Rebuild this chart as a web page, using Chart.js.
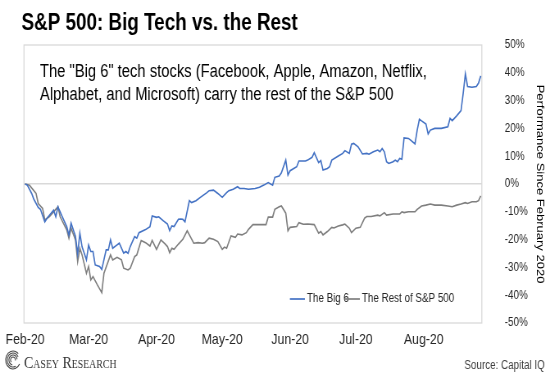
<!DOCTYPE html>
<html><head><meta charset="utf-8">
<script src="https://cdn.jsdelivr.net/npm/chart.js@4.4.1/dist/chart.umd.min.js"></script>
<style>html,body{margin:0;padding:0;background:#fff;overflow:hidden}canvas{display:block}</style>
</head><body>
<canvas id="c"></canvas>
<script>
const titleText = 'S&P 500: Big Tech vs. the Rest';
const noteLines = ['The "Big 6" tech stocks (Facebook, Apple, Amazon, Netflix,', 'Alphabet, and Microsoft) carry the rest of the S&P 500'];
const seriesNames = ['The Big 6', 'The Rest of S&P 500'];
const axisTitle = 'Performance Since February 2020';
const sourceText = 'Source: Capital IQ';
const brandText = 'Casey Research';
const monthLabels = ['Feb-20', 'Mar-20', 'Apr-20', 'May-20', 'Jun-20', 'Jul-20', 'Aug-20'];
const monthDays = [0, 29, 60, 90, 121, 151, 182];
const yMin = -50, yMax = 50, yStep = 10;

// days since 1 Feb 2020, performance in %
const bigDays = [0,1,3,4,6,7,9,10,13,14,15,17,19,20,21,23,24,25,26,28,29,30,31,32,34,35,37,38,39,40,42,43,45,46,47,48,50,51,52,55,57,58,60,61,63,65,66,67,68,70,71,72,73,75,76,78,80,83,84,86,88,90,92,93,95,97,98,100,102,105,107,109,111,113,114,116,117,119,120,121,124,125,128,129,131,132,134,135,136,138,139,140,143,145,146,148,149,150,152,154,156,157,159,161,162,163,164,165,166,168,169,170,171,172,173,175,176,178,179,180,181,183,184,185,187,190,193,194,195,197,199,200,201,202,204,206,207,208];
const bigVals = [0,-0.4,-3.4,-5.5,-8.4,-9.1,-13.6,-12.3,-9.4,-11.8,-8.2,-11.8,-15.3,-18.3,-14.1,-18.9,-25.1,-17.7,-22.6,-27.3,-22.0,-24.3,-24.3,-29.1,-29.7,-30.7,-23.7,-23.7,-20.1,-23.1,-21.9,-21.3,-24.9,-24.3,-24.9,-22.5,-18.9,-19.5,-17.5,-16.4,-15.4,-11.5,-12.0,-11.8,-13.2,-14.4,-16.8,-15.1,-15.3,-12.7,-12.6,-12.7,-13.6,-6.0,-6.7,-6.0,-4.8,-3.1,-2.4,-2.2,-3.4,-4.8,-3.1,-2.4,-1.9,-1.0,-1.6,-1.6,-1.9,-1.6,-1.2,-0.4,0.5,-0.4,2.4,2.9,4.0,8.6,3.2,4.8,6.2,8.3,8.3,8.6,9.6,11.3,7.7,8.4,5.0,5.6,6.2,8.6,10.1,11.0,12.0,11.0,14.3,14.6,13.4,10.8,11.0,10.7,11.6,12.2,11.6,12.8,11.6,8.0,7.4,8.0,8.6,8.0,9.2,8.9,16.6,16.4,15.8,14.4,19.4,23.3,22.7,21.6,18.0,19.4,20.0,20.0,20.6,23.6,22.8,24.5,26.4,32.6,39.6,35.1,34.8,35.1,36.3,38.9];
const restDays = [0,2,5,6,8,9,11,13,15,16,19,20,21,23,24,25,26,28,29,30,31,33,35,36,39,40,42,44,45,47,48,50,51,53,55,57,58,60,62,64,65,66,67,68,70,72,74,75,77,79,81,82,84,86,88,90,91,92,94,96,97,99,101,102,104,106,110,111,113,114,116,117,119,120,121,124,125,127,129,132,134,135,136,138,140,141,143,145,146,148,149,151,153,155,156,158,161,162,164,165,168,171,172,173,175,178,179,181,183,185,187,190,193,195,197,199,201,202,204,206,207,208];
const restVals = [0,-0.4,-3.4,-7.0,-8.8,-12.9,-11.8,-10.0,-8.2,-11.8,-16.5,-19.5,-15.9,-20.1,-27.9,-23.1,-25.5,-32.1,-29.7,-34.5,-33.3,-36.3,-39.1,-32.1,-25.5,-27.3,-26.4,-27.3,-30.3,-30.9,-30.3,-26.1,-25.5,-20.3,-21.1,-22.3,-20.3,-23.5,-20.1,-21.6,-22.5,-24.7,-23.1,-23.5,-21.6,-19.9,-16.8,-18.3,-21.3,-21.1,-21.3,-21.1,-19.5,-19.9,-20.7,-23.5,-22.7,-23.1,-18.7,-19.2,-18.0,-18.3,-17.5,-16.3,-14.6,-14.6,-14.6,-11.9,-11.9,-9.1,-8.2,-7.9,-10.5,-16.8,-15.6,-15.3,-13.9,-14.5,-14.4,-14.6,-17.7,-17.1,-18.3,-17.1,-15.6,-15.8,-15.1,-14.7,-14.4,-15.9,-17.5,-15.9,-15.6,-12.3,-11.7,-11.7,-11.2,-11.5,-10.3,-11.2,-10.8,-10.8,-10.0,-10.3,-10.0,-10.0,-9.1,-7.9,-7.6,-7.2,-7.6,-7.6,-7.9,-8.2,-7.6,-7.2,-6.7,-7.0,-6.4,-6.4,-6.0,-4.3];

const SX = 0.82;                 // horizontal squeeze of the reference picture
const CW = Math.round(550 / SX), CH = 376;
const X = v => v / SX;
const cv = document.getElementById('c');
cv.width = CW; cv.height = CH;
cv.style.width = '550px'; cv.style.height = CH + 'px';

const FONT = '"Liberation Sans", Arial, sans-serif';
const colors = ['#4472C4', '#7F7F7F'];

const decor = {
  id: 'decor',
  beforeDraw(chart) {
    const ctx = chart.ctx, a = chart.chartArea;
    ctx.save();
    ctx.fillStyle = '#fff';
    ctx.fillRect(0, 0, chart.width, chart.height);
    ctx.strokeStyle = '#D9D9D9';
    ctx.lineWidth = 1.3;
    ctx.strokeRect(a.left, a.top, a.right - a.left, a.bottom - a.top);
    ctx.restore();
  },
  afterDraw(chart) {
    const ctx = chart.ctx;
    ctx.save();
    ctx.textAlign = 'left';
    ctx.textBaseline = 'alphabetic';
    ctx.fillStyle = '#000';
    ctx.font = 'bold 23px ' + FONT;
    ctx.fillText(titleText, X(21.5), 29.5);
    ctx.font = '18px ' + FONT;
    ctx.fillText(noteLines[0], X(40), 77);
    ctx.fillText(noteLines[1], X(40), 100);
    // legend
    const ly = 299;
    const items = [[290, 307], [345, 362]];
    ctx.font = '12px ' + FONT;
    ctx.textBaseline = 'middle';
    items.forEach((it, i) => {
      ctx.strokeStyle = colors[i];
      ctx.lineWidth = 1.7;
      ctx.beginPath();
      ctx.moveTo(X(it[0]), ly); ctx.lineTo(X(it[0] + 15), ly);
      ctx.stroke();
      ctx.fillStyle = '#262626';
      ctx.fillText(seriesNames[i], X(it[1]), ly);
    });
    // source
    ctx.textBaseline = 'alphabetic';
    ctx.textAlign = 'right';
    ctx.fillStyle = '#404040';
    ctx.font = '12px ' + FONT;
    ctx.fillText(sourceText, X(545), 369);
    // brand logo
    ctx.textAlign = 'left';
    const cx = X(13), cy = 360;
    ctx.strokeStyle = '#444';
    ctx.lineWidth = 1.1;
    [9, 7, 5, 3].forEach((r, k) => {
      ctx.beginPath();
      ctx.arc(cx, cy, r, Math.PI * (0.15 + k * 0.2), Math.PI * (1.75 + k * 0.1));
      ctx.stroke();
    });
    ctx.fillStyle = '#333';
    ctx.font = 'small-caps 17px "Liberation Serif", serif';
    ctx.fillText(brandText, X(24), 368);
    ctx.restore();
  }
};

new Chart(cv, {
  type: 'line',
  data: {
    datasets: [
      { label: seriesNames[0], data: bigDays.map((d, i) => ({ x: d, y: bigVals[i] })),
        borderColor: colors[0], borderWidth: 1.6, pointRadius: 0, tension: 0, fill: false },
      { label: seriesNames[1], data: restDays.map((d, i) => ({ x: d, y: restVals[i] })),
        borderColor: colors[1], borderWidth: 1.6, pointRadius: 0, tension: 0, fill: false }
    ]
  },
  options: {
    responsive: false, animation: false, devicePixelRatio: 1,
    layout: { padding: { left: X(24), top: 45, right: 0, bottom: 0 } },
    plugins: { legend: { display: false }, title: { display: false }, tooltip: { enabled: false } },
    scales: {
      x: {
        type: 'linear', min: -0.5, max: 208.5,
        grid: { display: false }, border: { display: false },
        afterBuildTicks: s => { s.ticks = monthDays.map(v => ({ value: v })); },
        ticks: { autoSkip: false, maxRotation: 0, padding: 0, color: '#262626',
          font: { family: FONT, size: 15 },
          callback: v => monthLabels[monthDays.indexOf(v)] },
        afterFit: s => { s.height = CH - 323; }
      },
      y: {
        position: 'right', min: yMin, max: yMax,
        grid: { drawTicks: false, lineWidth: 1.5,
          color: c => (c.tick && c.tick.value === 0) ? '#D9D9D9' : 'rgba(0,0,0,0)' },
        border: { display: false },
        ticks: { stepSize: yStep, padding: X(505) - X(482), color: '#262626',
          font: { family: FONT, size: 12 }, callback: v => v + '%' },
        title: { display: true, text: axisTitle, color: '#000',
          font: { family: FONT, size: 13 }, padding: { top: 5, bottom: 0 } },
        afterFit: s => { s.width = CW - X(482); }
      }
    }
  },
  plugins: [decor]
});
</script>
</body></html>
